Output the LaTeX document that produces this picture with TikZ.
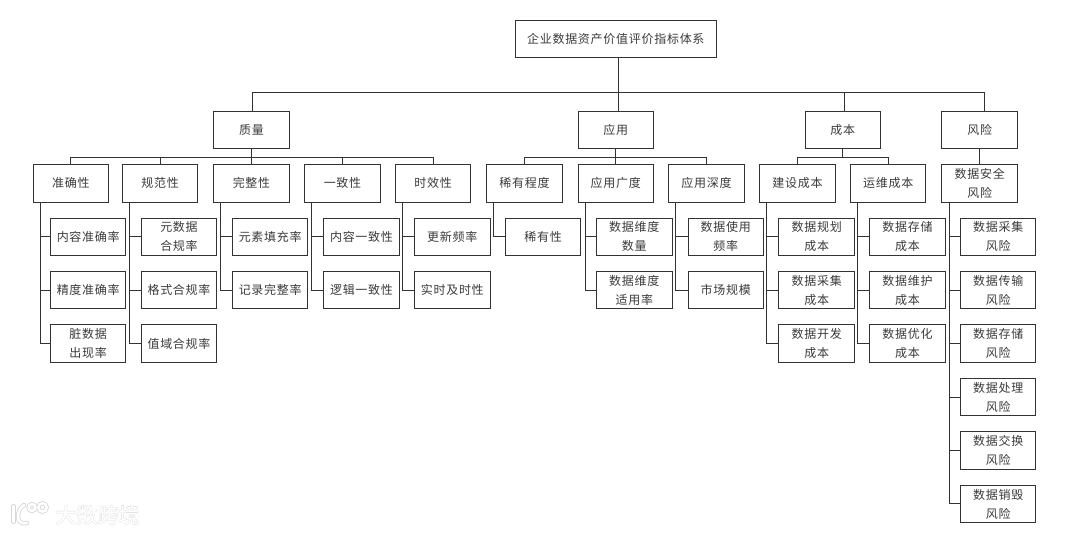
\documentclass[tikz,border=0pt]{standalone}
\usepackage{fontspec}
\setmainfont[LetterSpace=6]{Noto Sans CJK SC}
\newfontfamily\markfont[FakeBold=1]{Noto Sans CJK SC}
\newfontfamily\markhalofont[FakeBold=4]{Noto Sans CJK SC}
\definecolor{cline}{HTML}{333333}
\definecolor{ctext}{HTML}{3A3A3A}
\definecolor{chalo}{HTML}{D8D8D8}
\tikzset{
  box/.style={draw=cline, line width=1pt, text=ctext, align=center, inner sep=0pt,
    minimum width=75.5pt, minimum height=37.5pt, font=\fontsize{12}{19}\selectfont},
  conn/.style={draw=cline, line width=1pt},
  markhalo/.style={draw=chalo, line width=4.4pt, line cap=round},
  markline/.style={draw=white, line width=2.6pt, line cap=round},
}

\begin{document}
\begin{tikzpicture}[x=1pt, y=-1pt]
  \useasboundingbox (0,0) rectangle (1080,534);
  % ---------------- top: root and the four groups
  \node[box, minimum width=201pt] (root) at (615.8,39) {企业数据资产价值评价指标体系};
  \node[box] (quality) at (251.5,130) {质量};
  \node[box] (app) at (615.8,130) {应用};
  \node[box] (cost) at (842.8,130) {成本};
  \node[box] (risk) at (979.7,130) {风险};
  \draw[conn] ([xshift=2.2]root.south) -- ++(0,34) -| ([xshift=1.2]quality.north);
  \draw[conn] ([xshift=2.2]root.south) -- ([xshift=2.2]app.north);
  \draw[conn] ([xshift=2.2]root.south) -- ++(0,34) -| ([xshift=1.5]cost.north);
  \draw[conn] ([xshift=2.2]root.south) -- ++(0,34) -| ([xshift=4.6]risk.north);
  % ---------------- second row
  \node[box] (accuracy) at (70.8,183.3) {准确性};
  \node[box] (norm) at (160.2,183.3) {规范性};
  \node[box] (whole) at (251.5,183.3) {完整性};
  \node[box] (unity) at (342.5,183.3) {一致性};
  \node[box] (time) at (433.2,183.3) {时效性};
  \node[box] (rare) at (524.5,183.3) {稀有程度};
  \node[box] (wide) at (615.8,183.3) {应用广度};
  \node[box] (deep) at (706.5,183.3) {应用深度};
  \node[box] (build) at (797.5,183.3) {建设成本};
  \node[box] (run) at (888.2,183.3) {运维成本};
  \node[box] (safe) at (979.7,183.3) {数据安全\\风险};
  \foreach \kid in {accuracy,norm,whole,unity,time}
    \draw[conn] (quality.south) -- ++(0,8) -| (\kid.north);
  \foreach \kid in {rare,wide,deep}
    \draw[conn] (app.south) -- ++(0,8) -| (\kid.north);
  \foreach \kid in {build,run}
    \draw[conn] (cost.south) -- ++(0,8) -| (\kid.north);
  \draw[conn] (risk.south) -- (safe.north);
  % ---------------- quality leaves
  \node[box] (acc1) at (88.2,236.8) {内容准确率};
  \node[box] (acc2) at (88.2,290.2) {精度准确率};
  \node[box] (acc3) at (88.2,343.5) {脏数据\\出现率};
  \node[box] (norm1) at (179,236.8) {元数据\\合规率};
  \node[box] (norm2) at (179,290.2) {格式合规率};
  \node[box] (norm3) at (179,343.5) {值域合规率};
  \node[box] (whole1) at (270.2,236.8) {元素填充率};
  \node[box] (whole2) at (270.2,290.2) {记录完整率};
  \node[box] (unity1) at (361.5,236.8) {内容一致性};
  \node[box] (unity2) at (361.5,290.2) {逻辑一致性};
  \node[box] (time1) at (452.3,236.8) {更新频率};
  \node[box] (time2) at (452.3,290.2) {实时及时性};
  \foreach \kid in {acc1,acc2,acc3}
    \draw[conn] ([xshift=7.6]accuracy.south west) |- (\kid.west);
  \foreach \kid in {norm1,norm2,norm3}
    \draw[conn] ([xshift=7.6]norm.south west) |- (\kid.west);
  \foreach \kid in {whole1,whole2}
    \draw[conn] ([xshift=7.6]whole.south west) |- (\kid.west);
  \foreach \kid in {unity1,unity2}
    \draw[conn] ([xshift=7.6]unity.south west) |- (\kid.west);
  \foreach \kid in {time1,time2}
    \draw[conn] ([xshift=7.6]time.south west) |- (\kid.west);
  % ---------------- application leaves
  \node[box] (rare1) at (543.2,236.8) {稀有性};
  \node[box] (wide1) at (634.3,236.8) {数据维度\\数量};
  \node[box] (wide2) at (634.3,290.2) {数据维度\\适用率};
  \node[box] (deep1) at (725.8,236.8) {数据使用\\频率};
  \node[box] (deep2) at (725.8,290.2) {市场规模};
  \draw[conn] ([xshift=7.6]rare.south west) |- (rare1.west);
  \foreach \kid in {wide1,wide2}
    \draw[conn] ([xshift=7.6]wide.south west) |- (\kid.west);
  \foreach \kid in {deep1,deep2}
    \draw[conn] ([xshift=7.6]deep.south west) |- (\kid.west);
  % ---------------- cost leaves
  \node[box] (build1) at (816.7,236.8) {数据规划\\成本};
  \node[box] (build2) at (816.7,290.2) {数据采集\\成本};
  \node[box] (build3) at (816.7,343.5) {数据开发\\成本};
  \node[box] (run1) at (907.5,236.8) {数据存储\\成本};
  \node[box] (run2) at (907.5,290.2) {数据维护\\成本};
  \node[box] (run3) at (907.5,343.5) {数据优化\\成本};
  \foreach \kid in {build1,build2,build3}
    \draw[conn] ([xshift=7.6]build.south west) |- (\kid.west);
  \foreach \kid in {run1,run2,run3}
    \draw[conn] ([xshift=7.6]run.south west) |- (\kid.west);
  % ---------------- risk leaves
  \node[box] (safe1) at (998.2,236.8) {数据采集\\风险};
  \node[box] (safe2) at (998.2,290.2) {数据传输\\风险};
  \node[box] (safe3) at (998.2,343.5) {数据存储\\风险};
  \node[box] (safe4) at (998.2,397.2) {数据处理\\风险};
  \node[box] (safe5) at (998.2,450.3) {数据交换\\风险};
  \node[box] (safe6) at (998.2,504) {数据销毁\\风险};
  \foreach \kid in {safe1,safe2,safe3,safe4,safe5,safe6}
    \draw[conn] ([xshift=7.6]safe.south west) |- (\kid.west);
  % ---------------- watermark
  \foreach \look in {markhalo,markline} {
    \draw[\look] (13.5,506) -- (13.5,522);
    \draw[\look] (24,505) .. controls (16,510) and (15,526) .. (27,523);
    \draw[\look] (32,507.5) circle (3.4);
    \draw[\look] (42.5,507.5) circle (4.2);
  }
  \node[text=chalo, font=\markhalofont\fontsize{21}{21}\selectfont, inner sep=0pt] (brandhalo) at (97.5,515) {大数跨境};
  \node[text=white, font=\markfont\fontsize{21}{21}\selectfont, inner sep=0pt] (brand) at (97.5,515) {大数跨境};
\end{tikzpicture}
\end{document}
